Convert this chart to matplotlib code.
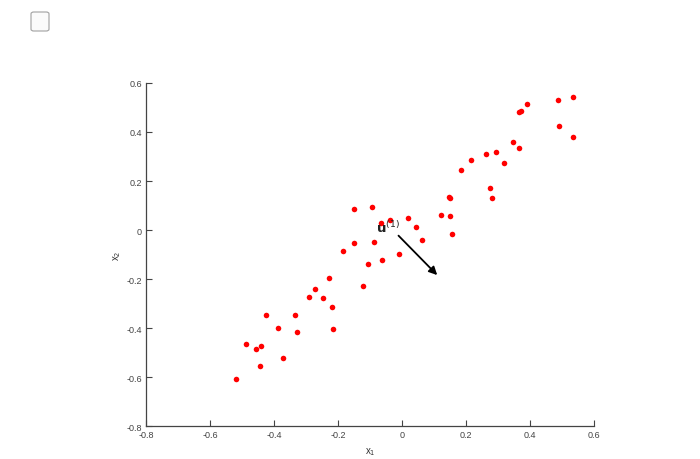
import numpy as np
import matplotlib
matplotlib.use('Agg')
import matplotlib.pyplot as plt
from matplotlib.patches import FancyBboxPatch

plt.rcParams['font.family'] = ['Liberation Sans', 'DejaVu Sans']

# data points
x1 = [-0.520, -0.489, -0.457, -0.440, -0.445, -0.424, -0.387, -0.371, -0.335, -0.328,
      -0.290, -0.271, -0.248, -0.227, -0.220, -0.216,
      -0.185, -0.150, -0.151, -0.093, -0.089, -0.106, -0.123, -0.063, -0.065, -0.037,
      -0.011, 0.019, 0.045, 0.062, 0.121, 0.151, 0.146, 0.150, 0.157,
      0.185, 0.216, 0.263, 0.293, 0.318, 0.276, 0.281, 0.348, 0.367, 0.364, 0.373,
      0.392, 0.487, 0.533, 0.492, 0.533]
x2 = [-0.608, -0.464, -0.484, -0.472, -0.554, -0.348, -0.400, -0.521, -0.348, -0.415,
      -0.272, -0.240, -0.279, -0.197, -0.313, -0.403,
      -0.084, -0.054, 0.087, 0.094, -0.049, -0.139, -0.227, -0.121, 0.027, 0.040,
      -0.099, 0.048, 0.012, -0.042, 0.061, 0.057, 0.135, 0.129, -0.015,
      0.245, 0.284, 0.309, 0.317, 0.272, 0.170, 0.131, 0.358, 0.336, 0.480, 0.484,
      0.514, 0.532, 0.544, 0.423, 0.381]

arrow_start = (-0.011, -0.023)
arrow_end = (0.110, -0.184)

xticks = [-0.8, -0.6, -0.4, -0.2, 0, 0.2, 0.4, 0.6]
yticks = [-0.8, -0.6, -0.4, -0.2, 0, 0.2, 0.4, 0.6]
tick_labels = ['-0.8', '-0.6', '-0.4', '-0.2', '0', '0.2', '0.4', '0.6']

fig = plt.figure(figsize=(7, 4.6), dpi=100)
ax = fig.add_axes([0.2086, 0.0717, 0.64, 0.7457])

ax.plot(x1, x2, 'o', color='#ff0000', markersize=4, markeredgewidth=0)
ax.annotate('', xy=arrow_end, xytext=arrow_start,
            arrowprops=dict(arrowstyle='-|>', color='black', lw=1.3,
                            mutation_scale=12, shrinkA=0, shrinkB=0))
# label drawn over the points, as in the original
ax.text(-0.082, -0.01, r'$\mathbf{u}^{(1)}$', fontsize=9.5, color='#222222', zorder=5)

ax.set_xlim(-0.8, 0.6)
ax.set_ylim(-0.8, 0.6)
ax.set_xticks(xticks)
ax.set_yticks(yticks)
ax.set_xticklabels(tick_labels)
ax.set_yticklabels(tick_labels)
ax.tick_params(direction='in', length=4, width=0.8, labelsize=6.5,
               colors='#444444', pad=3)
ax.spines['top'].set_visible(False)
ax.spines['right'].set_visible(False)
for s in ['left', 'bottom']:
    ax.spines[s].set_color('#444444')
    ax.spines[s].set_linewidth(0.9)

ax.set_xlabel(r'x$_1$', fontsize=7, color='#333333', labelpad=4)
ax.set_ylabel(r'x$_2$', fontsize=7, color='#333333', labelpad=2)

# checkbox in the corner
box = FancyBboxPatch((31 / 700, 1 - 32 / 460), 18 / 700, 19 / 460,
                     boxstyle='round,pad=0,rounding_size=0.004',
                     transform=fig.transFigure, facecolor='#fbfbfb',
                     edgecolor='#a0a0a0', lw=0.8)
fig.patches.append(box)

fig.savefig('out.png', dpi=100)
